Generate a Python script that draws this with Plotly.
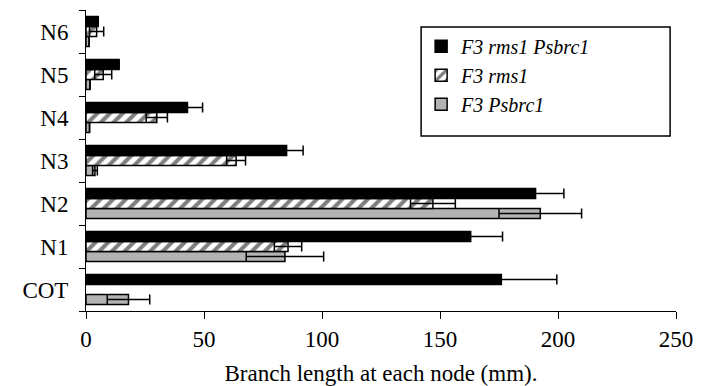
import plotly.graph_objects as go

categories = ["COT", "N1", "N2", "N3", "N4", "N5", "N6"]

# F3 rms1 Psbrc1 (black)
black_vals = [176, 163, 190.5, 85, 43, 14, 5.2]
black_err = [23.5, 13.5, 12, 7, 6.4, 0, 0]

# F3 rms1 (hatched)
hatch_vals = [None, 85.6, 147, 63.6, 30, 7.3, 4.5]
hatch_err = [0, 5.8, 9.5, 4, 4.5, 3.6, 3]

# F3 Psbrc1 (grey)
grey_vals = [18, 84.3, 192.5, 3.8, 1.5, 1.7, 1.3]
grey_err = [9, 16.4, 17.5, 1, 0, 0, 0]

series_names = ["F3 rms1 Psbrc1", "F3 rms1", "F3 Psbrc1"]
tick_vals = [0, 50, 100, 150, 200, 250]

FONT = "Liberation Serif"
err_style = dict(type="data", color="black", thickness=1.5, width=5, visible=True)

fig = go.Figure()
fig.add_trace(go.Bar(
    y=categories, x=grey_vals, orientation="h", name=series_names[2],
    marker=dict(color="#b3b3b3", line=dict(color="black", width=1.5)),
    error_x=dict(array=grey_err, **err_style),
))
fig.add_trace(go.Bar(
    y=categories, x=hatch_vals, orientation="h", name=series_names[1],
    marker=dict(color="white", line=dict(color="black", width=1.5),
                pattern=dict(shape="/", fgcolor="black", bgcolor="white",
                             size=9, solidity=0.45)),
    error_x=dict(array=hatch_err, **err_style),
))
fig.add_trace(go.Bar(
    y=categories, x=black_vals, orientation="h", name=series_names[0],
    marker=dict(color="black", line=dict(color="black", width=1.5)),
    error_x=dict(array=black_err, **err_style),
))

# legend frame drawn as a shape so it can be as wide as the reference's
fig.add_shape(type="rect", xref="paper", yref="paper",
              x0=0.568, x1=0.990, y0=0.581, y1=0.9435,
              line=dict(color="black", width=1.5), fillcolor="rgba(0,0,0,0)",
              layer="above")

# page body has an 8px margin, so the figure is made 8px smaller and shifted
fig.update_layout(
    width=693, height=378, autosize=False,
    margin=dict(l=78, r=25, t=2, b=75),
    paper_bgcolor="white", plot_bgcolor="white",
    barmode="group", bargap=0.3, bargroupgap=0,
    font=dict(family=FONT, size=22, color="black"),
    showlegend=True,
    legend=dict(
        x=0.568, y=0.944, xanchor="left", yanchor="top",
        traceorder="reversed",
        bgcolor="rgba(0,0,0,0)", borderwidth=0,
        font=dict(family=FONT, size=20, color="black", style="italic"),
        itemwidth=30,
    ),
    xaxis=dict(
        range=[0, 250], tickvals=tick_vals, ticktext=[str(v) for v in tick_vals],
        showline=True, linecolor="black", linewidth=1,
        ticks="outside", ticklen=7, tickcolor="black", tickwidth=1,
        showgrid=False, zeroline=False, automargin=False,
        tickfont=dict(family=FONT, size=23),
        title=dict(text="Branch length at each node (mm).",
                   font=dict(family=FONT, size=23), standoff=14),
    ),
    yaxis=dict(
        categoryorder="array", categoryarray=categories,
        showline=True, linecolor="black", linewidth=1,
        ticks="outside", ticklen=6, tickcolor="black", tickwidth=1,
        tickson="boundaries", showgrid=False, zeroline=False, automargin=False,
        tickfont=dict(family=FONT, size=23),
        ticklabelstandoff=12,
    ),
)

fig.write_html("out.html")
